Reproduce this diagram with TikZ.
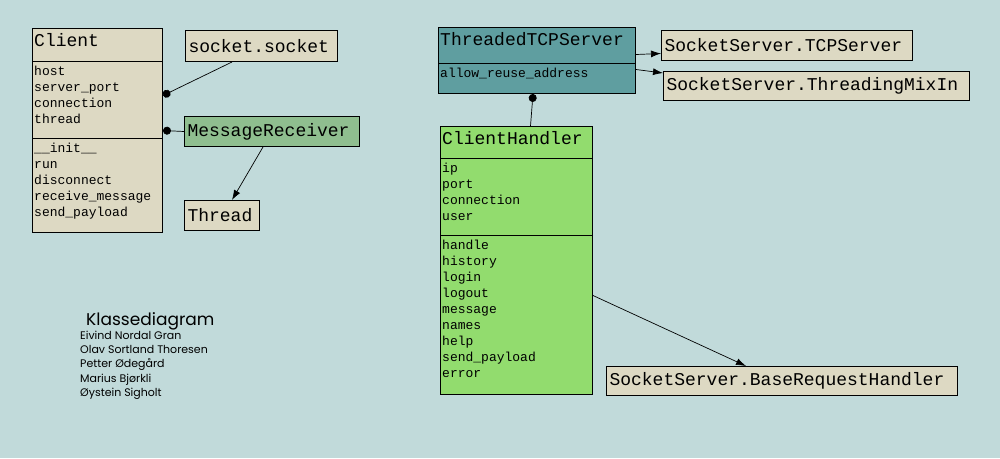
\documentclass[tikz,border=0pt]{standalone}
\usepackage{fontspec}
\setmonofont{Liberation Mono}
\newfontfamily\creditfont{Poppins}
\usetikzlibrary{arrows.meta}
\definecolor{PaneBg}{HTML}{C1DADA}
\definecolor{BoxBeige}{HTML}{DDD9C3}
\definecolor{SeaGreen}{HTML}{8FBE8F}
\definecolor{CadetTeal}{HTML}{5F9EA0}
\definecolor{LeafGreen}{HTML}{92DC6E}

\begin{document}
\begin{tikzpicture}[x=1pt,y=-1pt,>=Latex]
    \tikzstyle{cls}=[draw,line width=1pt,anchor=north west,inner sep=0pt,fill=BoxBeige]
    \tikzstyle{plain}=[draw,line width=1pt,anchor=north west,inner ysep=0pt,inner xsep=3pt,align=left,fill=BoxBeige,font=\ttfamily\fontsize{18}{20}\selectfont]
    \tikzstyle{clsname}=[anchor=base west,inner sep=0pt,font=\ttfamily\fontsize{18}{20}\selectfont]
    \tikzstyle{member}=[anchor=base west,inner sep=0pt,font=\ttfamily\fontsize{13}{16}\selectfont]
    \tikzstyle{has}=[{Circle[length=8pt]}-,line width=.7pt]
    \tikzstyle{isa}=[-{Latex[length=10pt,width=7pt]},line width=.7pt]
    \fill[PaneBg] (0,0) rectangle (1000,458);

    % Client
    \node[cls,minimum width=130pt,minimum height=204pt] (client) at (32,28) {};
    \draw[line width=1pt] (client.west |- 0,61.7) -- (client.east |- 0,61.7);
    \draw[line width=1pt] (client.west |- 0,138.3) -- (client.east |- 0,138.3);
    \node[clsname] (client-t) at (34,46) {Client};
    \foreach \txt [count=\i from 0] in {host,server\_port,connection,thread}
      \node[member] (client-a\i) at (34,75+16*\i) {\txt};
    \foreach \txt [count=\i from 0] in {\_\_init\_\_,run,disconnect,receive\_message,send\_payload}
      \node[member] (client-m\i) at (34,152+16*\i) {\txt};

    \node[plain,text width=146pt,minimum height=31pt] (sock) at (185,30) {socket.socket};
    \node[plain,text width=169pt,minimum height=30pt,fill=SeaGreen] (recv) at (184,116) {MessageReceiver};
    \node[plain,text width=69pt,minimum height=30pt] (thread) at (184,200) {Thread};

    % server side
    \node[cls,minimum width=197pt,minimum height=66pt,fill=CadetTeal] (tcp) at (438,27) {};
    \draw[line width=1pt] (tcp.west |- 0,63.3) -- (tcp.east |- 0,63.3);
    \node[clsname] (tcp-t) at (440,45.5) {ThreadedTCPServer};
    \node[member] (tcp-a0) at (440,77) {allow\_reuse\_address};

    \node[plain,text width=245pt,minimum height=30pt] (tcpsrv) at (661,30) {SocketServer.TCPServer};
    \node[plain,text width=300pt,minimum height=29pt] (mixin) at (663,71) {SocketServer.ThreadingMixIn};

    \node[cls,minimum width=152pt,minimum height=268pt,fill=LeafGreen] (handler) at (440,126) {};
    \draw[line width=1pt] (handler.west |- 0,158.3) -- (handler.east |- 0,158.3);
    \draw[line width=1pt] (handler.west |- 0,235.7) -- (handler.east |- 0,235.7);
    \node[clsname] (handler-t) at (442,144) {ClientHandler};
    \foreach \txt [count=\i from 0] in {ip,port,connection,user}
      \node[member] (handler-a\i) at (442,172+16*\i) {\txt};
    \foreach \txt [count=\i from 0] in {handle,history,login,logout,message,names,help,send\_payload,error}
      \node[member] (handler-m\i) at (442,249+16*\i) {\txt};

    \node[plain,text width=345pt,minimum height=29pt] (basereq) at (606,366) {SocketServer.BaseRequestHandler};

    % credits
    \node[anchor=base west,inner sep=0pt,font=\creditfont\fontsize{17}{18}\selectfont] (credit) at (86,325) {Klassediagram};
    \foreach \txt [count=\i from 0] in {Eivind Nordal Gran,Olav Sortland Thoresen,Petter Ødegård,Marius Bjørkli,Øystein Sigholt}
      \node[anchor=base west,inner sep=0pt,font=\creditfont\fontsize{11}{12}\selectfont] (credit-\i) at (80,339+14.4*\i) {\txt};

    % connectors
    \draw[has] ([yshift=35pt]client.east) -- ([xshift=47pt]sock.south west);
    \draw[has] (client.east) -- (recv.west);
    \draw[isa] ([xshift=-9pt]recv.south) -- ([xshift=10pt]thread.north);
    \draw[isa] ([yshift=6pt]tcp.east) -- ([yshift=-8pt]tcpsrv.west);
    \draw[isa] ([yshift=-9pt]tcp.east) -- ([yshift=13pt]mixin.west);
    \draw[has] ([xshift=-4pt]tcp.south) -- ([xshift=14pt]handler.north);
    \draw[isa] ([yshift=-35pt]handler.east) -- ([xshift=-36pt]basereq.north);
  \end{tikzpicture}
\end{document}
